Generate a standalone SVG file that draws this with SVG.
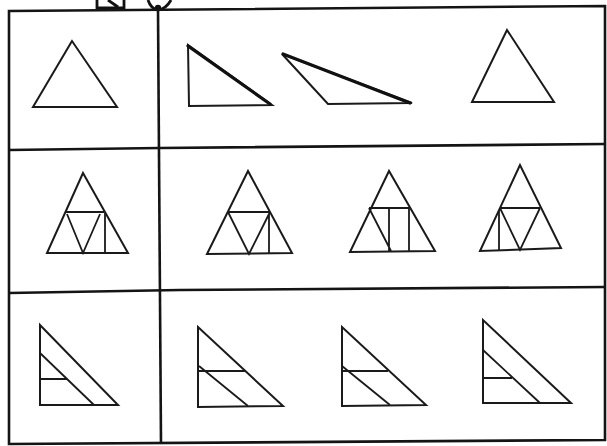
<svg xmlns="http://www.w3.org/2000/svg" width="607" height="446" viewBox="0 0 607 446">
<style>
.frame{fill:none;stroke:#141414;stroke-width:2.6;stroke-linejoin:miter}
.tri{fill:none;stroke:#1a1a1a;stroke-width:2;stroke-linejoin:miter}
.in{fill:none;stroke:#1a1a1a;stroke-width:1.8}
.thk{fill:none;stroke:#111;stroke-width:3.2;stroke-linecap:round}
.frag{fill:none;stroke:#111;stroke-width:2.8}
</style>
<rect width="607" height="446" fill="#fff"/>
<g id="fragments">
<path class="frag" d="M97,0 V8 H124 V0 M108,0 L118,7"/>
<path class="frag" d="M148,0 Q151,9 158,10 Q166,9 171,0"/>
<circle cx="158" cy="8" r="3.2" fill="#111"/>
</g>
<g id="grid">
<path class="frame" d="M9,11 L605,6 L605,440 L9,444 Z"/>
<path class="frame" d="M158,10 L161,444"/>
<path class="frame" stroke-width="3" d="M9,150 L160,148 L605,144"/>
<path class="frame" stroke-width="3" d="M9,293 L180,290 L605,287"/>
</g>
<g id="r1c1">
<path class="tri" d="M72,41 L33,107 L117,107 Z"/>
</g>
<g id="r1a">
<path class="tri" d="M188,45 L189,106 L272,105 Z"/>
<path class="thk" d="M188,46 L270,104"/>
</g>
<g id="r1b">
<path class="tri" d="M282,54 L328,104 L412,103 Z"/>
<path class="thk" d="M283,54 L410,103"/>
</g>
<g id="r1c">
<path class="tri" d="M507,30 L472,102 L554,102 Z"/>
</g>
<g id="r2c1">
<path class="tri" d="M83,173 L47,253 L128,253 Z"/>
<path class="in" d="M66,212 H104 M67,214 L83,253 L100,214 M105,213 V253"/>
</g>
<g id="r2a">
<path class="tri" d="M248,171 L207,254 L292,253 Z"/>
<path class="in" d="M228,212 H270 M228,212 L249,254 L270,212 M269,214 V253"/>
</g>
<g id="r2b">
<path class="tri" d="M389,171 L350,252 L435,251 Z"/>
<path class="in" d="M369,208 H409 M369,208 L391,251 M389,208 V251 M409,208 V251"/>
</g>
<g id="r2c">
<path class="tri" d="M520,165 L480,251 L561,248 Z"/>
<path class="in" d="M500,208 H540 M500,208 L520,250 L540,208 M499,210 V250"/>
</g>
<g id="r3c1">
<path class="tri" d="M40,325 L40,405 L118,405 Z"/>
<path class="in" d="M40,353 L94,405 M40,379 H67"/>
</g>
<g id="r3a">
<path class="tri" d="M198,327 L198,407 L283,406 Z"/>
<path class="in" d="M198,371 H245 M199,366 L248,406"/>
</g>
<g id="r3b">
<path class="tri" d="M342,327 L342,406 L426,405 Z"/>
<path class="in" d="M342,371 H388 M342,366 L390,405"/>
</g>
<g id="r3c">
<path class="tri" d="M483,320 L483,403 L571,403 Z"/>
<path class="in" d="M483,350 L540,403 M483,378 H512"/>
</g>
</svg>
